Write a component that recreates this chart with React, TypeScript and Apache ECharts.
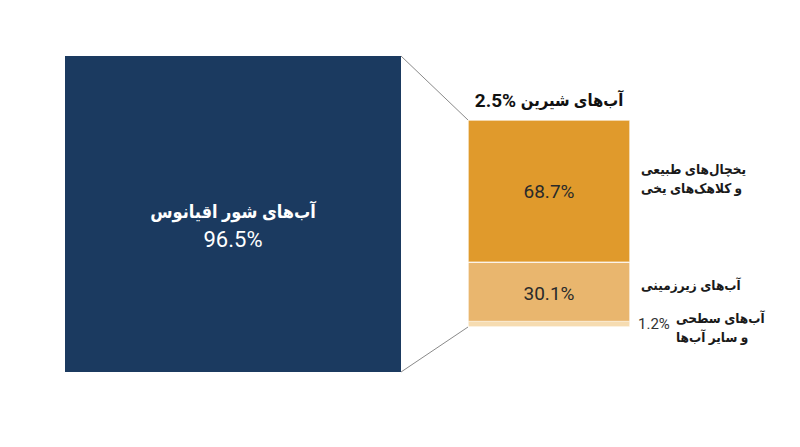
import React, { useEffect, useRef } from "react";
import * as echarts from "echarts";

const ZW = "\u200c";
const saltName = `آب${ZW}های شور اقیانوس`;
const saltValue = 96.5;
const freshName = `آب${ZW}های شیرین`;
const freshValue = 2.5;
const freshCategories = [
  `یخچال${ZW}های طبیعی\nو کلاهک${ZW}های یخی`,
  `آب${ZW}های زیرزمینی`,
  `آب${ZW}های سطحی\nو سایر آب${ZW}ها`,
];
const freshValues = [68.7, 30.1, 1.2];
const freshColors = ["#e09a2c", "#e9b66e", "#f6dcb1"];
const navy = "#1b3a60";

const FONT = "Roboto, 'DejaVu Sans Condensed', 'DejaVu Sans', sans-serif";

export default function App() {
  const ref = useRef<HTMLDivElement>(null);
  useEffect(() => {
    if (!ref.current) return;
    const chart = echarts.init(ref.current, null, { renderer: "svg" });

    const g0 = { left: 65, top: 56, width: 336, height: 316 };
    const g1 = { left: 468, top: 120, width: 162, height: 207 };

    const stackSeries = freshValues
      .map((v, i) => ({ v, i }))
      .reverse()
      .map(({ v, i }) => ({
        type: "bar",
        name: freshCategories[i],
        xAxisIndex: 1,
        yAxisIndex: 1,
        stack: "fresh",
        barWidth: "100%",
        barMinHeight: i === 2 ? 6 : 0,
        z: i === 2 ? 3 : 2,
        data: [v],
        itemStyle: { color: freshColors[i], borderColor: "#fff", borderWidth: 0.6 },
        label:
          i < 2
            ? {
                show: true,
                position: "inside",
                formatter: (p: any) => `${p.value}%`,
                color: "#2a2a2a",
                fontSize: 19,
                fontFamily: FONT,
              }
            : {
                show: true,
                position: "right",
                distance: 8,
                formatter: (p: any) => `${p.value}%`,
                color: "#333",
                fontSize: 15,
                fontFamily: FONT,
              },
      }));

    const nameYs = [178, 285, 327];
    const nameXs = [641, 641, 676];

    chart.setOption({
      animation: false,
      grid: [
        { ...g0, containLabel: false },
        { ...g1, containLabel: false },
      ],
      xAxis: [
        { type: "category", gridIndex: 0, data: ["salt"], show: false },
        { type: "category", gridIndex: 1, data: ["fresh"], show: false },
      ],
      yAxis: [
        { type: "value", gridIndex: 0, min: 0, max: saltValue, show: false },
        { type: "value", gridIndex: 1, min: 0, max: 100, show: false },
      ],
      series: [
        {
          type: "bar",
          xAxisIndex: 0,
          yAxisIndex: 0,
          barWidth: "100%",
          data: [saltValue],
          itemStyle: { color: navy },
          label: {
            show: true,
            position: "inside",
            offset: [0, 11],
            formatter: () => `{t|${saltName}}\n{v|${saltValue}%}`,
            rich: {
              t: { fontSize: 18, fontWeight: "bold", color: "#fff", fontFamily: FONT, lineHeight: 28 },
              v: { fontSize: 22, color: "#fff", fontFamily: FONT, lineHeight: 28 },
            },
          },
        },
        ...stackSeries,
      ],
      graphic: [
        {
          type: "line",
          shape: { x1: g0.left + g0.width, y1: g0.top, x2: g1.left, y2: g1.top },
          style: { stroke: "#8a8a8a", lineWidth: 1 },
        },
        {
          type: "line",
          shape: {
            x1: g0.left + g0.width,
            y1: g0.top + g0.height,
            x2: g1.left,
            y2: g1.top + g1.height,
          },
          style: { stroke: "#8a8a8a", lineWidth: 1 },
        },
        {
          type: "text",
          x: g1.left + g1.width / 2,
          y: 100,
          style: {
            text: `{n|${freshValue}%} {a|${freshName}}`,
            rich: {
              n: { fontSize: 19, fontWeight: "bold", fill: "#111", fontFamily: FONT },
              a: { fontSize: 16.5, fontWeight: "bold", fill: "#111", fontFamily: FONT },
            },
            textAlign: "center",
            textVerticalAlign: "middle",
            fontSize: 19,
            fontWeight: "bold",
            fill: "#111",
            fontFamily: FONT,
          },
        },
        ...freshCategories.map((c, i) => ({
          type: "text",
          x: nameXs[i],
          y: nameYs[i],
          style: {
            text: c,
            textAlign: "left",
            textVerticalAlign: "middle",
            fontSize: 13.5,
            fontWeight: "bold",
            lineHeight: 19,
            fill: "#1a1a1a",
            fontFamily: FONT,
          },
        })),
      ],
    });
    return () => chart.dispose();
  }, []);
  return (
    <div
      ref={ref}
      style={{ position: "fixed", left: 0, top: 0, width: 800, height: 447, background: "#fff" }}
    />
  );
}
